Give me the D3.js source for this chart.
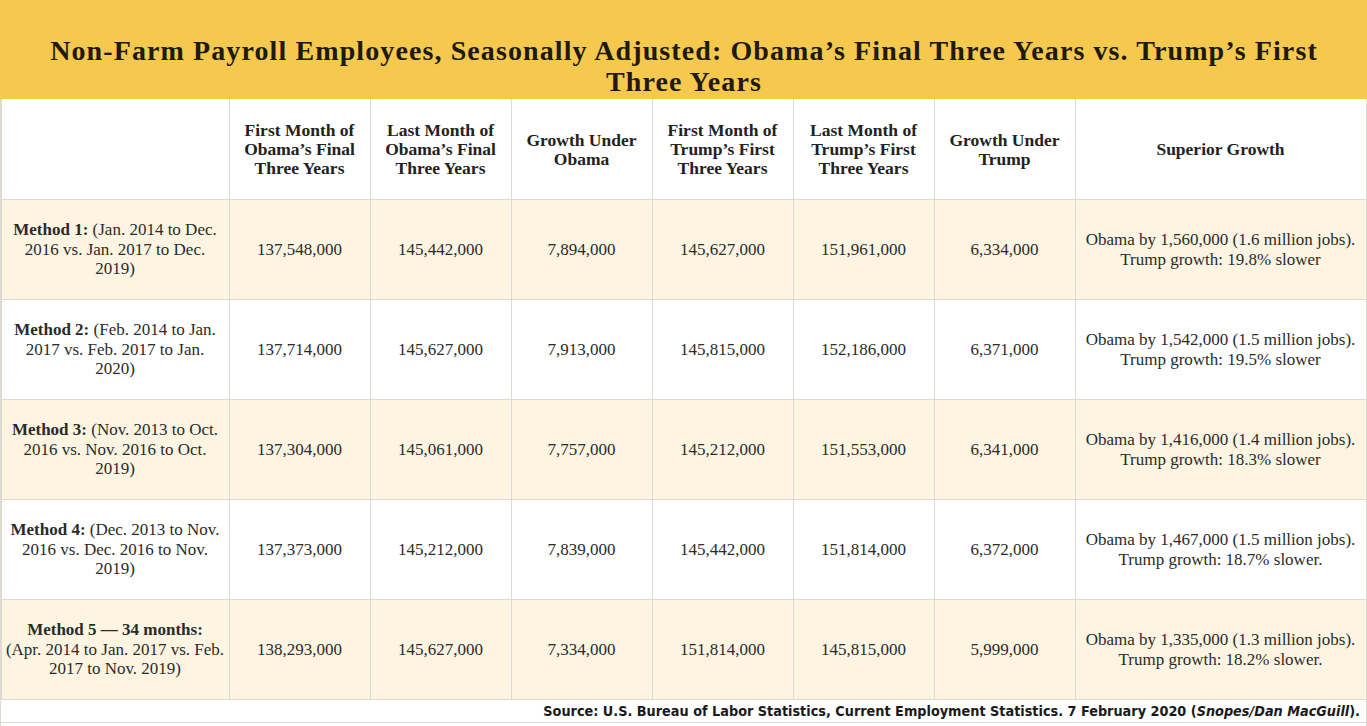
<!DOCTYPE html>
<html>
<head>
<meta charset="utf-8">
<script src="https://cdn.jsdelivr.net/npm/d3@7/dist/d3.min.js"></script>
<style>
  html, body { margin: 0; padding: 0; background: #fff; }
  svg { display: block; }
</style>
</head>
<body>
<svg id="chart" width="1367" height="726"></svg>
<script>
// ---------------- DATA ----------------
const titleLines = [
  "Non-Farm Payroll Employees, Seasonally Adjusted: Obama’s Final Three Years vs. Trump’s First",
  "Three Years"
];
const headers = [
  "",
  "First Month of\nObama’s Final\nThree Years",
  "Last Month of\nObama’s Final\nThree Years",
  "Growth Under\nObama",
  "First Month of\nTrump’s First\nThree Years",
  "Last Month of\nTrump’s First\nThree Years",
  "Growth Under\nTrump",
  "Superior Growth"
];
const methodBold = ["Method 1:", "Method 2:", "Method 3:", "Method 4:", "Method 5 — 34 months:"];
const methodText = [
  " (Jan. 2014 to Dec.\n2016 vs. Jan. 2017 to Dec.\n2019)",
  " (Feb. 2014 to Jan.\n2017 vs. Feb. 2017 to Jan.\n2020)",
  " (Nov. 2013 to Oct.\n2016 vs. Nov. 2016 to Oct.\n2019)",
  " (Dec. 2013 to Nov.\n2016 vs. Dec. 2016 to Nov.\n2019)",
  "\n(Apr. 2014 to Jan. 2017 vs. Feb.\n2017 to Nov. 2019)"
];
const firstObama  = [137548000, 137714000, 137304000, 137373000, 138293000];
const lastObama   = [145442000, 145627000, 145061000, 145212000, 145627000];
const growthObama = [7894000, 7913000, 7757000, 7839000, 7334000];
const firstTrump  = [145627000, 145815000, 145212000, 145442000, 151814000];
const lastTrump   = [151961000, 152186000, 151553000, 151814000, 145815000];
const growthTrump = [6334000, 6371000, 6341000, 6372000, 5999000];
const superior = [
  "Obama by 1,560,000 (1.6 million jobs).\nTrump growth: 19.8% slower",
  "Obama by 1,542,000 (1.5 million jobs).\nTrump growth: 19.5% slower",
  "Obama by 1,416,000 (1.4 million jobs).\nTrump growth: 18.3% slower",
  "Obama by 1,467,000 (1.5 million jobs).\nTrump growth: 18.7% slower.",
  "Obama by 1,335,000 (1.3 million jobs).\nTrump growth: 18.2% slower."
];
const sourcePrefix = "Source: U.S. Bureau of Labor Statistics, Current Employment Statistics. 7 February 2020 (";
const sourceItalic = "Snopes/Dan MacGuill";
const sourceSuffix = ").";

// ---------------- LAYOUT ----------------
const W = 1367, H = 726;
const serif = "Georgia, 'Liberation Serif', 'DejaVu Serif', serif";
const condensed = "'Liberation Sans Narrow', 'DejaVu Sans Condensed', 'Roboto Condensed', 'Open Sans', sans-serif";
const YELLOW = "#F5C84E", CREAM = "#FDF5E2", GRID = "#DEDAD2";

const colWidths = [228, 141, 141, 141, 141, 141, 141, 291];
const colEdges = [1];
colWidths.forEach(w => colEdges.push(colEdges[colEdges.length - 1] + w));
const x = d3.scaleOrdinal().domain(d3.range(8)).range(colEdges.slice(0, 8));
const colW = i => colEdges[i + 1] - colEdges[i];

const rowKeys = ["header", ...d3.range(5)];
const y = d3.scaleBand().domain(rowKeys).range([99, 699]).padding(0);

const fmt = d3.format(",");
const rows = d3.range(5).map(i => [
  null,
  fmt(firstObama[i]), fmt(lastObama[i]), fmt(growthObama[i]),
  fmt(firstTrump[i]), fmt(lastTrump[i]), fmt(growthTrump[i]),
  superior[i]
]);

const svg = d3.select("#chart");
svg.append("rect").attr("width", W).attr("height", H).attr("fill", "#fff");

// title band
svg.append("rect").attr("x", 0).attr("y", 0).attr("width", W).attr("height", 99).attr("fill", YELLOW);
titleLines.forEach((t, k) => {
  svg.append("text")
    .attr("font-family", serif).attr("font-weight", "bold").attr("font-size", 28)
    .attr("letter-spacing", 1.1)
    .attr("fill", "#1E1A10").attr("text-anchor", "middle")
    .attr("x", 684).attr("y", 60 + k * 31).text(t);
});

// row backgrounds
d3.range(5).forEach(i => {
  svg.append("rect").attr("x", 1).attr("y", y(i)).attr("width", colEdges[8] - 1).attr("height", y.bandwidth())
    .attr("fill", i % 2 === 0 ? CREAM : "#fff");
});

// grid lines
const grid = svg.append("g").attr("stroke", GRID).attr("stroke-width", 1).attr("shape-rendering", "crispEdges");
colEdges.forEach((cx, k) => {
  grid.append("line").attr("x1", cx + 0.5).attr("x2", cx + 0.5).attr("y1", 99).attr("y2", 699);
});
rowKeys.forEach(k => {
  grid.append("line").attr("x1", 1).attr("x2", colEdges[8]).attr("y1", y(k) + y.bandwidth() + 0.5).attr("y2", y(k) + y.bandwidth() + 0.5);
});
grid.append("line").attr("x1", 1).attr("x2", colEdges[8]).attr("y1", 722.5).attr("y2", 722.5);
grid.append("line").attr("x1", 0.5).attr("x2", 0.5).attr("y1", 99).attr("y2", 726);
grid.append("line").attr("x1", colEdges[8] + 0.5).attr("x2", colEdges[8] + 0.5).attr("y1", 699).attr("y2", 726);

// multi-line centered text helper
function cellText(g, lines, cx, cy, opts) {
  const lh = opts.lh || 19.5;
  const t = g.append("text").attr("font-family", serif).attr("font-size", opts.size)
    .attr("font-weight", opts.weight || "normal").attr("fill", opts.fill || "#2B2B2B")
    .attr("text-anchor", "middle");
  const n = lines.length;
  lines.forEach((ln, k) => {
    const ts = t.append("tspan").attr("x", cx).attr("y", cy + (k - (n - 1) / 2) * lh).attr("dy", "0.35em");
    if (typeof ln === "string") ts.text(ln);
    else ln.forEach(part => ts.append("tspan").attr("font-weight", part.b ? "bold" : "normal").text(part.t));
  });
  return t;
}

// header
const hg = svg.append("g");
headers.forEach((h, c) => {
  if (!h) return;
  cellText(hg, h.split("\n"), x(c) + colW(c) / 2, y("header") + y.bandwidth() / 2, {size: 17.5, weight: "bold", fill: "#222", lh: 19});
});

// body
const bg = svg.append("g");
d3.range(5).forEach(i => {
  const cy = y(i) + y.bandwidth() / 2;
  const parts = methodText[i].split("\n");
  const lines = parts.map((p, k) => k === 0 ? [{t: methodBold[i], b: true}, {t: p, b: false}] : p);
  cellText(bg, lines, x(0) + colW(0) / 2, cy, {size: 17, lh: 19.5});
  rows[i].forEach((v, c) => {
    if (v === null) return;
    cellText(bg, v.split("\n"), x(c) + colW(c) / 2, cy, {size: 17, lh: 19.5});
  });
});

// source
const src = svg.append("text").attr("font-family", condensed).attr("font-weight", "bold")
  .attr("font-size", 14.3).attr("fill", "#1a1a1a").attr("text-anchor", "end")
  .attr("x", 1360).attr("y", 711).attr("dy", "0.35em");
src.append("tspan").text(sourcePrefix);
src.append("tspan").attr("font-style", "italic").text(sourceItalic);
src.append("tspan").text(sourceSuffix);
</script>
</body>
</html>
